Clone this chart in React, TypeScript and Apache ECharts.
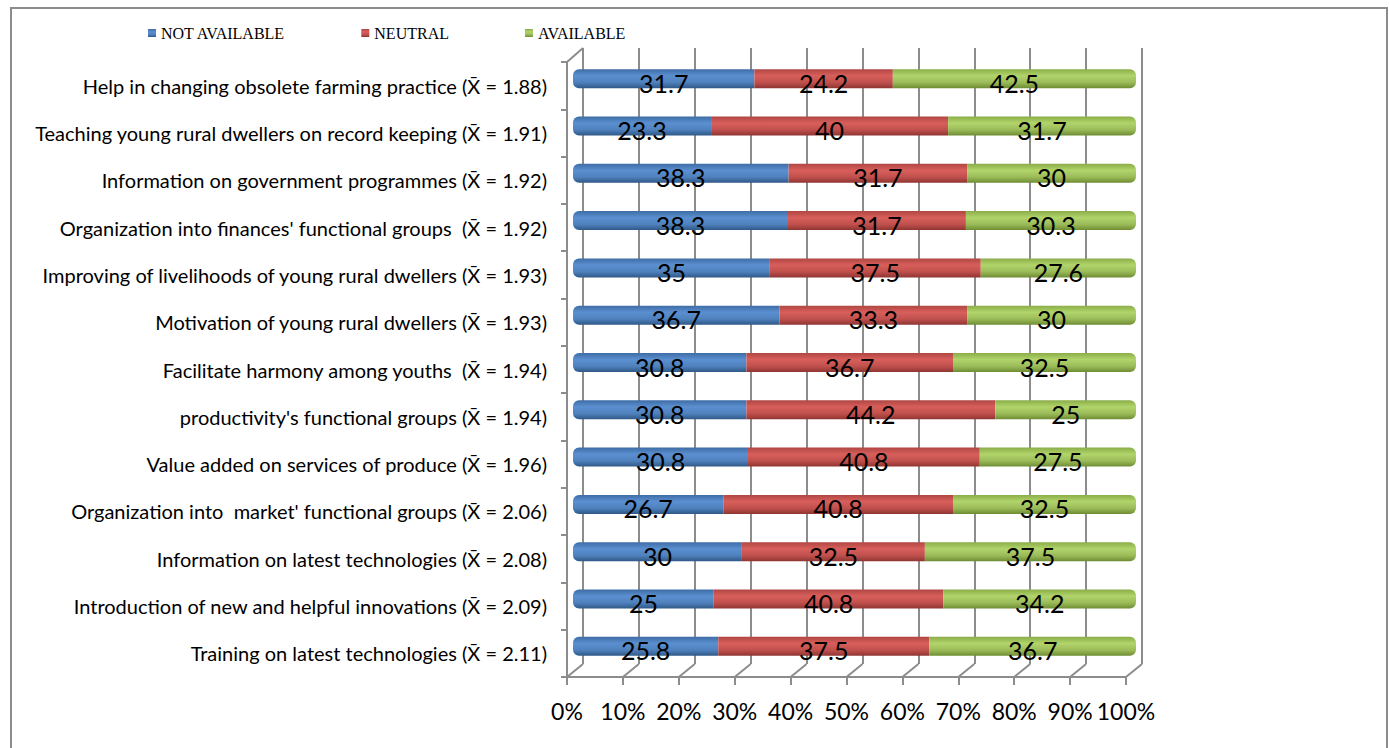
import React, { useEffect, useRef } from "react";
import * as echarts from "echarts";

// Items rated, top to bottom, with their mean scores
const ITEMS = [
  "Help in changing obsolete farming practice",
  "Teaching young rural dwellers on record keeping",
  "Information on government programmes",
  "Organization into finances' functional groups ",
  "Improving of livelihoods of young rural dwellers",
  "Motivation of young rural dwellers",
  "Facilitate harmony among youths ",
  "productivity's functional groups",
  "Value added on services of produce",
  "Organization into  market' functional groups",
  "Information on latest technologies",
  "Introduction of new and helpful innovations",
  "Training on latest technologies",
];
const MEANS = ["1.88", "1.91", "1.92", "1.92", "1.93", "1.93", "1.94", "1.94", "1.96", "2.06", "2.08", "2.09", "2.11"];

// Percent of respondents per response level
const NOT_AVAILABLE = [31.7, 23.3, 38.3, 38.3, 35, 36.7, 30.8, 30.8, 30.8, 26.7, 30, 25, 25.8];
const NEUTRAL = [24.2, 40, 31.7, 31.7, 37.5, 33.3, 36.7, 44.2, 40.8, 40.8, 32.5, 40.8, 37.5];
const AVAILABLE = [42.5, 31.7, 30, 30.3, 27.6, 30, 32.5, 25, 27.5, 32.5, 37.5, 34.2, 36.7];

const SERIES_NAMES = ["NOT AVAILABLE", "NEUTRAL", "AVAILABLE"];
const SERIES_VALUES = [NOT_AVAILABLE, NEUTRAL, AVAILABLE];
const SERIES_COLORS = [
  { base: "#4F81BD", top: "#3E6DA6", light: "#5B8FD0", bottom: "#2F5886" },
  { base: "#C0504D", top: "#B04643", light: "#D85F5B", bottom: "#8F3532" },
  { base: "#9BBB59", top: "#8AAD48", light: "#B1D46B", bottom: "#6E8D33" },
];

// Layout of the 3D box: back wall, front face and the bar plane in between
const BACK = { left: 583, top: 48, width: 559, height: 616 };
const FRONT = { left: 567, top: 62, width: 559, height: 615 };
const MID = { left: 573, top: 55, width: 563, height: 615 };
const GRID_COLOR = "#8C8C8C";
const FONT = "Lato";

export default function App() {
  const ref = useRef<HTMLDivElement>(null);

  useEffect(() => {
    if (!ref.current) return;
    const chart = echarts.init(ref.current, null, { renderer: "svg" });

    const labels = ITEMS.map((t, i) => `${t} (X\u0304 = ${MEANS[i]})`);
    const totals = ITEMS.map((_, i) => NOT_AVAILABLE[i] + NEUTRAL[i] + AVAILABLE[i]);

    const series = SERIES_VALUES.map((vals, s) => {
      const c = SERIES_COLORS[s];
      const radius = s === 0 ? [6, 0, 0, 6] : s === 2 ? [0, 6, 6, 0] : 0;
      return {
        name: SERIES_NAMES[s],
        type: "bar",
        stack: "total",
        xAxisIndex: 2,
        yAxisIndex: 2,
        barWidth: 19,
        data: vals.map((v, i) => ({ value: (v / totals[i]) * 100, raw: v })),
        itemStyle: {
          borderRadius: radius,
          color: new echarts.graphic.LinearGradient(0, 0, 0, 1, [
            { offset: 0, color: c.top },
            { offset: 0.35, color: c.light },
            { offset: 0.7, color: c.base },
            { offset: 1, color: c.bottom },
          ]),
        },
        label: {
          show: true,
          position: "inside",
          offset: [0, 4],
          color: "#000",
          fontFamily: FONT,
          fontSize: 25,
          formatter: (p: any) => String(p.data.raw),
        },
      };
    });

    // Floor edges joining the back wall to the front axis, plus the left wall's top edge
    const step = FRONT.width / 10;
    const floorLines: any[] = [];
    for (let i = 0; i <= 10; i++) {
      floorLines.push({
        type: "line",
        shape: {
          x1: BACK.left + i * step,
          y1: BACK.top + BACK.height,
          x2: FRONT.left + i * step,
          y2: FRONT.top + FRONT.height,
        },
        style: { stroke: GRID_COLOR, lineWidth: 2 },
        z: 1,
      });
    }
    floorLines.push({
      type: "line",
      shape: { x1: BACK.left, y1: BACK.top, x2: FRONT.left, y2: FRONT.top },
      style: { stroke: GRID_COLOR, lineWidth: 2 },
      z: 1,
    });

    chart.setOption({
      animation: false,
      backgroundColor: "#fff",
      legend: {
        data: SERIES_NAMES,
        left: 143,
        top: 20,
        itemWidth: 8,
        itemHeight: 8,
        itemGap: 76,
        icon: "rect",
        textStyle: { fontFamily: "Liberation Serif", fontSize: 16, color: "#000" },
      },
      grid: [
        { ...BACK, containLabel: false },
        { ...FRONT, containLabel: false },
        { ...MID, containLabel: false },
      ],
      xAxis: [
        {
          gridIndex: 0,
          type: "value",
          min: 0,
          max: 100,
          interval: 10,
          axisLine: { show: false },
          axisTick: { show: false },
          axisLabel: { show: false },
          splitLine: { show: true, lineStyle: { color: GRID_COLOR, width: 2 } },
        },
        {
          gridIndex: 1,
          type: "value",
          min: 0,
          max: 100,
          interval: 10,
          axisLine: { show: true, lineStyle: { color: GRID_COLOR, width: 2 } },
          axisTick: { show: true, length: 8, lineStyle: { color: GRID_COLOR, width: 2 } },
          axisLabel: {
            show: true,
            margin: 22,
            formatter: "{value}%",
            fontFamily: FONT,
            fontSize: 23,
            color: "#000",
          },
          splitLine: { show: false },
        },
        {
          gridIndex: 2,
          type: "value",
          min: 0,
          max: 100,
          show: false,
        },
      ],
      yAxis: [
        {
          gridIndex: 0,
          type: "category",
          inverse: true,
          data: labels,
          show: false,
        },
        {
          gridIndex: 1,
          type: "category",
          inverse: true,
          data: labels,
          axisLine: { show: true, lineStyle: { color: GRID_COLOR, width: 2 } },
          axisTick: { show: true, length: 6, lineStyle: { color: GRID_COLOR, width: 2 } },
          axisLabel: {
            margin: 20,
            fontFamily: FONT,
            fontSize: 20,
            color: "#000",
          },
          splitLine: { show: false },
        },
        {
          gridIndex: 2,
          type: "category",
          inverse: true,
          data: labels,
          show: false,
        },
      ],
      graphic: [
        {
          type: "rect",
          shape: { x: 11, y: 8, width: 1376, height: 760 },
          style: { fill: "none", stroke: GRID_COLOR, lineWidth: 2 },
          z: 0,
        },
        ...floorLines,
      ],
      series,
    });

    return () => chart.dispose();
  }, []);

  return (
    <div
      ref={ref}
      style={{ position: "absolute", left: 0, top: 0, width: 1389, height: 748 }}
    />
  );
}
